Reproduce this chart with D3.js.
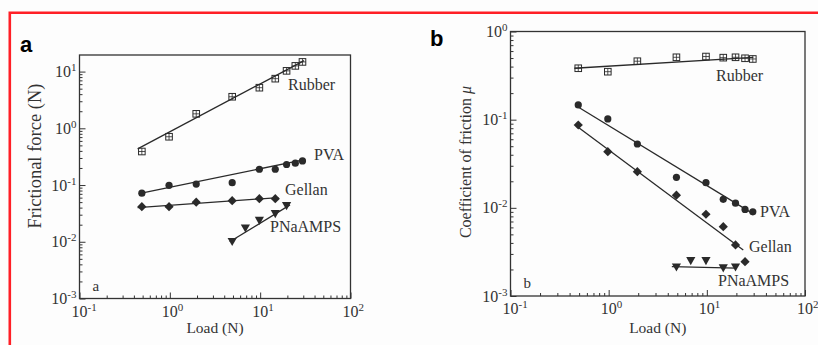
<!DOCTYPE html>
<html>
<head>
<meta charset="utf-8">
<script src="https://cdn.jsdelivr.net/npm/d3@7"></script>
<style>
  body { margin: 0; background: #fff; }
  text { font-family: "Liberation Serif", "Times New Roman", serif; fill: #333; }
  .tag { font-family: "Liberation Sans", Arial, sans-serif; font-weight: bold; fill: #000; }
</style>
</head>
<body>
<div id="chart"></div>
<script>
// loads (N)
var loads = [0.49, 0.98, 1.96, 4.9, 9.8, 14.7, 19.6, 24.5, 29.4];
var loadsGellanA = [0.49, 0.98, 1.96, 4.9, 9.8, 14.7];
var loadsGellanB = [0.49, 0.98, 1.96, 4.9, 9.8, 14.7, 19.6, 24.5];
var loadsPNa = [4.9, 6.86, 9.8, 14.7, 19.6];

// panel a : frictional force (N)
var forceRubber = [0.39, 0.71, 1.8, 3.6, 5.2, 7.5, 10.3, 12.6, 14.8];
var forcePVA = [0.072, 0.099, 0.104, 0.11, 0.19, 0.19, 0.23, 0.243, 0.266];
var forceGellan = [0.0416, 0.0416, 0.0498, 0.053, 0.0575, 0.0575];
var forcePNa = [0.010, 0.0173, 0.0236, 0.031, 0.043];

// panel b : coefficient of friction
var muRubber = [0.383, 0.35, 0.46, 0.51, 0.52, 0.505, 0.51, 0.497, 0.488];
var muPVA = [0.147, 0.102, 0.053, 0.0222, 0.0193, 0.0125, 0.0113, 0.0096, 0.009];
var muGellan = [0.087, 0.0434, 0.0257, 0.0139, 0.00846, 0.00612, 0.0038, 0.00245];
var muPNa = [0.00212, 0.0025, 0.0025, 0.00207, 0.00212];

// fitted lines, [load, value] end points
var fitA = {
  Rubber: [[0.44, 0.434], [30.6, 15.6]],
  PVA: [[0.47, 0.0716], [30, 0.277]],
  Gellan: [[0.44, 0.04], [15.9, 0.06]],
  PNaAMPS: [[4.6, 0.01], [21.4, 0.0447]]
};
var fitB = {
  Rubber: [[0.447, 0.383], [29.7, 0.51]],
  PVA: [[0.47, 0.143], [29.7, 0.00853]],
  Gellan: [[0.47, 0.0849], [23.5, 0.00333]],
  PNaAMPS: [[4.4, 0.00215], [20, 0.00207]]
};

var xTicks = [0.1, 1, 10, 100];
var xExp = ["-1", "0", "1", "2"];

var width = 818, height = 345;
var svg = d3.select('#chart').append('svg')
  .attr('width', width).attr('height', height);

svg.append('rect').attr('width', width).attr('height', height).attr('fill', '#fdfdfd');

// red frame
svg.append('path')
  .attr('d', 'M9.8,345 V12.8 H818')
  .attr('fill', 'none').attr('stroke', '#ff1f26').attr('stroke-width', 2.6);

function marker(g, type, x, y){
  var c = '#2a2a2a';
  if (type == 'square') {
    g.append('rect').attr('x', x - 3.3).attr('y', y - 3.3).attr('width', 6.6).attr('height', 6.6)
      .attr('fill', 'none').attr('stroke', c).attr('stroke-width', 1);
    g.append('path').attr('d', 'M' + (x - 3.3) + ',' + y + 'H' + (x + 3.3) + 'M' + x + ',' + (y - 3.3) + 'V' + (y + 3.3))
      .attr('stroke', c).attr('stroke-width', 0.8);
  } else if (type == 'circle') {
    g.append('circle').attr('cx', x).attr('cy', y).attr('r', 3.6).attr('fill', c);
  } else if (type == 'diamond') {
    g.append('path').attr('d', 'M' + x + ',' + (y - 4.6) + 'L' + (x + 4.6) + ',' + y + 'L' + x + ',' + (y + 4.6) + 'L' + (x - 4.6) + ',' + y + 'Z')
      .attr('fill', c);
  } else {
    g.append('path').attr('d', 'M' + (x - 4.6) + ',' + (y - 3.8) + 'L' + (x + 4.6) + ',' + (y - 3.8) + 'L' + x + ',' + (y + 4.3) + 'Z')
      .attr('fill', c);
  }
}

function drawPanel(cfg){
  var x = d3.scaleLog().domain([0.1, 100]).range([cfg.left, cfg.right]);
  var y = d3.scaleLog().domain(cfg.yDomain).range([cfg.bottom, cfg.top]);
  var g = svg.append('g');

  // minor + major ticks, pointing inwards
  var minorX = x.ticks().filter(function(d){ return xTicks.indexOf(d) < 0; });
  var minorY = y.ticks().filter(function(d){ return cfg.yTicks.indexOf(d) < 0; });
  g.append('g').attr('transform', 'translate(0,' + cfg.bottom + ')')
    .call(d3.axisBottom(x).tickValues(minorX).tickSize(-3).tickFormat(''));
  g.append('g').attr('transform', 'translate(0,' + cfg.bottom + ')')
    .call(d3.axisBottom(x).tickValues(xTicks).tickSize(-6).tickFormat(''));
  g.append('g').attr('transform', 'translate(' + cfg.left + ',0)')
    .call(d3.axisLeft(y).tickValues(minorY).tickSize(-3).tickFormat(''));
  g.append('g').attr('transform', 'translate(' + cfg.left + ',0)')
    .call(d3.axisLeft(y).tickValues(cfg.yTicks).tickSize(-6).tickFormat(''));
  g.selectAll('.domain').remove();
  g.selectAll('.tick line').attr('stroke', '#333').attr('stroke-width', 1);

  // frame
  g.append('rect').attr('x', cfg.left).attr('y', cfg.top)
    .attr('width', cfg.right - cfg.left).attr('height', cfg.bottom - cfg.top)
    .attr('fill', 'none').attr('stroke', '#333').attr('stroke-width', 1.3);

  // tick labels
  xTicks.forEach(function(d, i){
    var t = g.append('text').attr('x', x(d) - 8).attr('y', cfg.bottom + 18)
      .style('font-size', '16px');
    t.append('tspan').text('10');
    t.append('tspan').attr('dy', -6).style('font-size', '11px').text(xExp[i]);
  });
  cfg.yTicks.forEach(function(d, i){
    var t = g.append('text').attr('x', cfg.left - 3).attr('y', y(d) + 5.5)
      .attr('text-anchor', 'end').style('font-size', '16px');
    t.append('tspan').text('10');
    t.append('tspan').attr('dy', -6).style('font-size', '11px').text(cfg.yExp[i]);
  });

  // axis titles
  g.append('text').attr('x', (cfg.left + cfg.right) / 2).attr('y', 333)
    .attr('text-anchor', 'middle').style('font-size', '15.5px').text('Load (N)');
  var yt = g.append('text')
    .attr('transform', 'translate(' + cfg.titleX + ',' + cfg.titleY + ') rotate(-90)')
    .attr('text-anchor', 'middle').style('font-size', cfg.titleSize);
  yt.text(cfg.yTitle);
  if (cfg.mu) yt.append('tspan').style('font-style', 'italic').text(' \u03bc');

  // fitted lines
  var line = d3.line().x(function(d){ return x(d[0]); }).y(function(d){ return y(d[1]); });
  cfg.series.forEach(function(s){
    g.append('path').attr('d', line(s.fit)).attr('fill', 'none')
      .attr('stroke', '#2a2a2a').attr('stroke-width', 1.3);
  });
  // markers
  cfg.series.forEach(function(s){
    s.x.forEach(function(v, i){ marker(g, s.type, x(v), y(s.y[i])); });
  });
  // series labels
  cfg.series.forEach(function(s){
    g.append('text').attr('x', s.lx).attr('y', s.ly).style('font-size', '16px').text(s.name);
  });

  g.append('text').attr('x', cfg.left + 13).attr('y', cfg.bottom - 8).style('font-size', '15px').text(cfg.small);
  svg.append('text').attr('class', 'tag').attr('x', cfg.tagX).attr('y', cfg.tagY)
    .style('font-size', '22px').text(cfg.small);
}

drawPanel({
  left: 79.5, right: 350.5, top: 55, bottom: 298.5,
  yDomain: [0.001, 19.6], yTicks: [0.001, 0.01, 0.1, 1, 10], yExp: ["-3", "-2", "-1", "0", "1"],
  yTitle: 'Frictional force (N)', titleX: 41, titleY: 156, titleSize: '18.5px',
  small: 'a', tagX: 20, tagY: 52,
  series: [
    {name: 'Rubber', type: 'square', x: loads, y: forceRubber, fit: fitA.Rubber, lx: 288, ly: 90},
    {name: 'PVA', type: 'circle', x: loads, y: forcePVA, fit: fitA.PVA, lx: 314, ly: 160},
    {name: 'Gellan', type: 'diamond', x: loadsGellanA, y: forceGellan, fit: fitA.Gellan, lx: 285, ly: 195},
    {name: 'PNaAMPS', type: 'triangle', x: loadsPNa, y: forcePNa, fit: fitA.PNaAMPS, lx: 270, ly: 232}
  ]
});

drawPanel({
  left: 510.5, right: 805, top: 31.5, bottom: 296,
  yDomain: [0.001, 1], yTicks: [0.001, 0.01, 0.1, 1], yExp: ["-3", "-2", "-1", "0"],
  yTitle: 'Coefficient of friction', mu: true, titleX: 471, titleY: 162, titleSize: '16px',
  small: 'b', tagX: 430, tagY: 46,
  series: [
    {name: 'Rubber', type: 'square', x: loads, y: muRubber, fit: fitB.Rubber, lx: 716, ly: 81},
    {name: 'PVA', type: 'circle', x: loads, y: muPVA, fit: fitB.PVA, lx: 760, ly: 217},
    {name: 'Gellan', type: 'diamond', x: loadsGellanB, y: muGellan, fit: fitB.Gellan, lx: 749, ly: 252},
    {name: 'PNaAMPS', type: 'triangle', x: loadsPNa, y: muPNa, fit: fitB.PNaAMPS, lx: 718, ly: 286}
  ]
});
</script>
</body>
</html>
